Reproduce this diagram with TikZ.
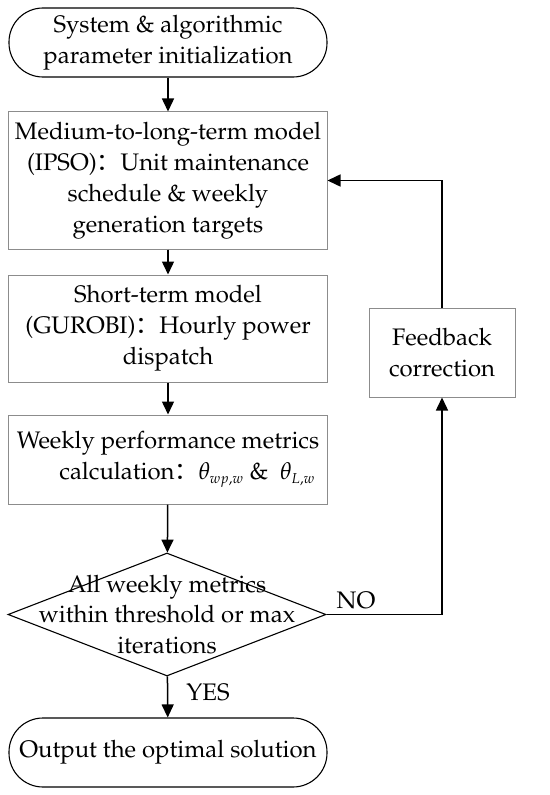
\documentclass[tikz,border=0pt]{standalone}
\usepackage{fontspec}
\newfontfamily\cjk{Noto Sans CJK SC}
\usepackage[T1]{fontenc}
\usepackage{mathpazo}
\usetikzlibrary{shapes.geometric,arrows.meta}
\begin{document}
\begin{tikzpicture}[x=1bp,y=-1bp,
  every node/.style={font=\fontsize{24}{31}\selectfont},
  term/.style={draw=black,line width=1.1bp,rounded corners=34bp,minimum width=318bp,minimum height=69bp,align=center,inner sep=0},
  procbox/.style={draw=black!45,line width=1bp,minimum width=318bp,align=center,inner sep=0},
  conn/.style={line width=1.5bp,-{Triangle[length=13bp,width=12bp]}},
  lbl/.style={inner sep=0}
]
\fill[white] (0,0) rectangle (550,795);
\useasboundingbox (0,0) rectangle (550,795);

\node[term] (start) at (168,42.5) {System \& algorithmic\\parameter initialization};
\node[procbox,minimum height=137bp] (mlt) at (168,180.5) {Medium-to-long-term model\\(IPSO){\cjk ：}Unit maintenance\\schedule \& weekly\\generation targets};
\node[procbox,minimum height=107bp] (st) at (168,328.5) {Short-term model\\(GUROBI){\cjk ：}Hourly power\\dispatch};
\node[procbox,minimum height=89bp] (wpm) at (168,459.5) {Weekly performance metrics\\\hspace*{1.6em}calculation{\cjk ：}$\theta_{\scriptscriptstyle wp,w}$ \&\ \ $\theta_{\scriptscriptstyle L,w}$};
\node[diamond,draw=black,line width=1.1bp,minimum width=318bp,minimum height=123bp,inner sep=0] (dec) at (167,614.5) {};
\node[align=center,inner sep=0] (dectext) at (dec.center) {All weekly metrics\\within threshold or max\\iterations};
\node[term] (out) at (168,752.5) {Output the optimal solution};
\node[procbox,minimum width=146bp,minimum height=89bp] (fb) at (442,352.5) {Feedback\\correction};

\draw[conn] (start) -- (mlt);
\draw[conn] (mlt) -- (st);
\draw[conn] (st) -- (wpm);
\draw[conn] (wpm) -- (dec);
\draw[conn] (dec) -- (out);
\draw[conn] (dec.east) -| (fb.south);
\draw[conn] (fb.north) |- (mlt.east);

\node[lbl] (no) at (356,600) {NO};
\node[lbl] (yes) at (208,692) {YES};
\end{tikzpicture}
\end{document}
